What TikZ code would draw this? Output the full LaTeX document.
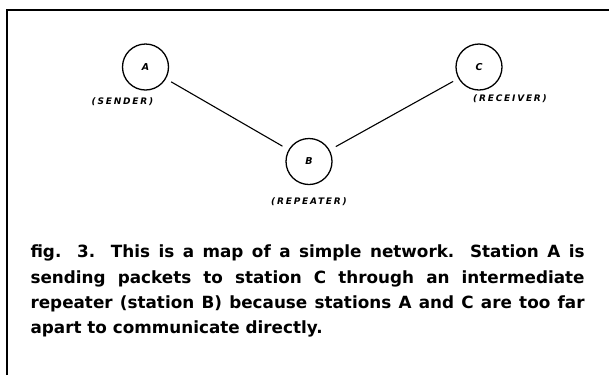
\documentclass[tikz,border=0pt]{standalone}
\usepackage{fontspec}
\setmainfont{DejaVu Sans}
\newfontfamily\lblfont{DejaVu Sans}[LetterSpace=20]
\newfontfamily\capfont{DejaVu Sans}
\begin{document}
\begin{tikzpicture}[x=1bp, y=-1bp, line width=1.1bp,
					link/.style={shorten <=6bp, shorten >=7bp},
					lbl/.style={draw=none, font=\lblfont\bfseries\itshape\fontsize{9bp}{11bp}\selectfont}]
					\tikzstyle{station}=[draw, circle, line width=1.3bp, minimum size=46bp, inner sep=0pt, font=\bfseries\itshape\fontsize{9.5bp}{12bp}\selectfont]
					\useasboundingbox (0,0) rectangle (609,375);
					
					% frame
					\draw[line width=1.5bp] (7,375) -- (7,10) -- (609,10);
					
					\node[station] at (145.5,67) (A) {A};
					\node[station] at (309,161.5) (B) {B};
					\node[station] at (479,67) (C) {C};
					
					\draw[link] (A) -- (B);
					\draw[link] (C) -- (B);
					
					\node[lbl, xshift=-23bp, yshift=-35bp] at (A) (sender) {(SENDER)};
					\node[lbl, xshift=0bp, yshift=-40.5bp] at (B) (repeater) {(REPEATER)};
					\node[lbl, xshift=31bp, yshift=-32bp] at (C) (receiver) {(RECEIVER)};
					
					\node[anchor=north west, inner sep=0pt, text width=554bp, align=justify,
						font=\capfont\bfseries\fontsize{16.8bp}{25.3bp}\selectfont] at (30,244.5) (caption)
						{fig. 3. This is a map of a simple network. Station A is\linebreak
						sending packets to station C through an intermediate\linebreak
						repeater (station B) because stations A and C are too far\linebreak
						apart to communicate directly.};
					
				\end{tikzpicture}
\end{document}
